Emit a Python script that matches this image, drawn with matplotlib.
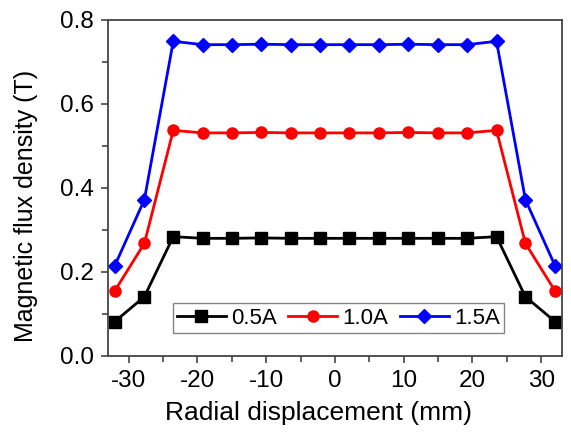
import matplotlib
matplotlib.use("Agg")
import matplotlib.pyplot as plt
from matplotlib.ticker import MultipleLocator

plt.rcParams['font.family'] = ['Liberation Sans', 'DejaVu Sans']
plt.rcParams['axes.unicode_minus'] = False

x = [-32.0, -27.7, -23.5, -19.2, -15.0, -10.7, -6.4, -2.1,
     2.1, 6.4, 10.7, 15.0, 19.2, 23.5, 27.7, 32.0]
b05 = [0.082, 0.141, 0.284, 0.280, 0.280, 0.281, 0.280, 0.280,
       0.280, 0.280, 0.280, 0.280, 0.280, 0.284, 0.141, 0.082]
b10 = [0.155, 0.268, 0.537, 0.531, 0.531, 0.532, 0.531, 0.531,
       0.531, 0.531, 0.532, 0.531, 0.531, 0.537, 0.268, 0.155]
b15 = [0.215, 0.372, 0.749, 0.741, 0.741, 0.742, 0.741, 0.741,
       0.741, 0.741, 0.742, 0.741, 0.741, 0.749, 0.372, 0.215]
labels = ['0.5A', '1.0A', '1.5A']

fig = plt.figure(figsize=(5.71, 4.32), dpi=100)
ax = fig.add_axes([0.189, 0.176, 0.795, 0.778])

ax.plot(x, b05, color='black', marker='s', markersize=8, lw=2, label=labels[0])
ax.plot(x, b10, color='red', marker='o', markersize=8, lw=2, label=labels[1])
ax.plot(x, b15, color='blue', marker='D', markersize=7.5, lw=2, label=labels[2])

ax.set_xlim(-33, 33)
ax.set_ylim(0, 0.8)
ax.xaxis.set_major_locator(MultipleLocator(10))
ax.xaxis.set_minor_locator(MultipleLocator(5))
ax.yaxis.set_major_locator(MultipleLocator(0.2))
ax.yaxis.set_minor_locator(MultipleLocator(0.1))
ax.yaxis.set_major_formatter(plt.FuncFormatter(lambda v, p: f"{v:.1f}"))

for s in ax.spines.values():
    s.set_color('#444444')
    s.set_linewidth(1.3)
ax.tick_params(which='both', direction='out', colors='#444444', labelcolor='black',
               labelsize=17.5, width=1.2)
ax.tick_params(which='major', length=5, pad=5)
ax.tick_params(which='minor', length=4)

ax.set_xlabel('Radial displacement (mm)', fontsize=19)
ax.xaxis.set_label_coords(0.463, -0.135)
ax.set_ylabel('Magnetic flux density (T)', fontsize=18)
ax.yaxis.set_label_coords(-0.155, 0.446)

leg = ax.legend(loc='lower center', ncol=3, fontsize=16, frameon=True, fancybox=False,
                bbox_to_anchor=(0.508, 0.068), handlelength=2.2, handletextpad=0.25,
                columnspacing=0.5, borderpad=0.2, borderaxespad=0)
leg.get_frame().set_edgecolor('#666666')
leg.get_frame().set_linewidth(1.0)

fig.savefig('out.png', dpi=100)
